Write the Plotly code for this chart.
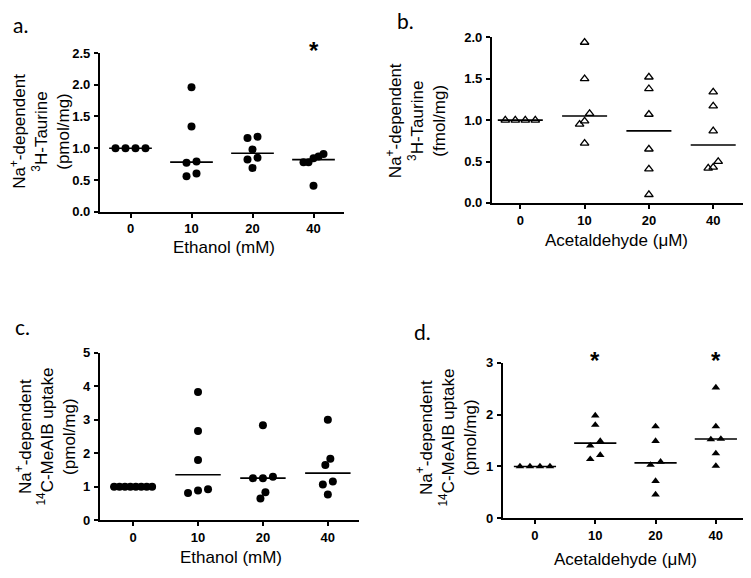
import plotly.graph_objects as go

W, H = 751, 578
OFF = 8  # default page body margin
FW, FH = W - OFF, H - OFF

categories = ["0", "10", "20", "40"]

# Panel a: Ethanol -> 3H-Taurine (pmol/mg)
a_vals = [
    [1.0, 1.0, 1.0, 1.0],
    [1.96, 1.34, 0.79, 0.77, 0.60, 0.56],
    [1.18, 1.16, 0.98, 0.85, 0.82, 0.69],
    [0.91, 0.87, 0.84, 0.78, 0.78, 0.41],
]
a_median = [1.0, 0.78, 0.92, 0.82]

# Panel b: Acetaldehyde -> 3H-Taurine (fmol/mg)
b_vals = [
    [1.0, 1.0, 1.0, 1.0],
    [1.94, 1.50, 1.08, 0.99, 0.95, 0.72],
    [1.52, 1.38, 1.07, 0.65, 0.41, 0.10],
    [1.34, 1.17, 0.87, 0.50, 0.42, 0.43],
]
b_median = [1.0, 1.05, 0.87, 0.70]

# Panel c: Ethanol -> 14C-MeAIB uptake (pmol/mg)
c_vals = [
    [1.0, 1.0, 1.0, 1.0, 1.0, 1.0, 1.0, 1.0],
    [3.83, 2.67, 1.80, 0.93, 0.89, 0.82],
    [2.84, 1.30, 1.26, 1.26, 0.84, 0.65],
    [3.00, 1.84, 1.65, 1.16, 1.07, 0.77],
]
c_median = [1.0, 1.36, 1.26, 1.41]

# Panel d: Acetaldehyde -> 14C-MeAIB uptake (pmol/mg)
d_vals = [
    [1.0, 1.0, 1.0, 1.0],
    [1.98, 1.80, 1.49, 1.40, 1.22, 1.14],
    [1.77, 1.49, 1.09, 1.03, 0.72, 0.46],
    [2.52, 1.77, 1.53, 1.52, 1.25, 1.01],
]
d_median = [1.0, 1.45, 1.07, 1.53]

# significance markers (category)
a_sig = ["40"]
d_sig = ["10", "40"]

panels = [
    dict(key="a", vals=a_vals, med=a_median, x0=100, x1=344, yb=210, yt=47, yr=[0, 2.5], dt=0.5, fmt=".1f",
         xr=[-0.5, 3.5], marker="circle", ytitle="Na<sup>+</sup>-dependent<br><sup>3</sup>H-Taurine<br>(pmol/mg)",
         xtitle="Ethanol (mM)", tx=40, ty=128, xtx=224, xty=247, lx=20, ly=18, sig=a_sig),
    dict(key="b", vals=b_vals, med=b_median, x0=492, x1=746, yb=201, yt=31, yr=[0, 2.0], dt=0.5, fmt=".1f",
         xr=[-0.44, 3.51], marker="triangle-up-open", ytitle="Na<sup>+</sup>-dependent<br><sup>3</sup>H-Taurine<br>(fmol/mg)",
         xtitle="Acetaldehyde (\u03bcM)", tx=416, ty=117, xtx=616, xty=240, lx=405, ly=14, sig=[]),
    dict(key="c", vals=c_vals, med=c_median, x0=100, x1=359, yb=527, yt=355, yr=[0, 5], dt=1, fmt="d",
         xr=[-0.51, 3.48], marker="circle", ytitle="Na<sup>+</sup>-dependent<br><sup>14</sup>C-MeAIB uptake<br>(pmol/mg)",
         xtitle="Ethanol (mM)", tx=45, ty=441, xtx=231, xty=565, lx=23, ly=328, sig=[]),
    dict(key="d", vals=d_vals, med=d_median, x0=503, x1=746, yb=525, yt=365, yr=[0, 3], dt=1, fmt="d",
         xr=[-0.53, 3.5], marker="triangle-up", ytitle="Na<sup>+</sup>-dependent<br><sup>14</sup>C-MeAIB uptake<br>(pmol/mg)",
         xtitle="Acetaldehyde (\u03bcM)", tx=446, ty=442, xtx=625, xty=567, lx=422, ly=333, sig=d_sig),
]


def px_x(px):
    return (px - OFF) / FW


def px_y(py):
    return 1 - (py - OFF) / FH


def swarm_offsets(values, px_per_y, px_per_x, gap=8.0, maxw=38.0):
    """Arrange points with similar values side by side (GraphPad-like column scatter)."""
    order = sorted(range(len(values)), key=lambda i: values[i])
    clusters, cur = [], [order[0]]
    for i in order[1:]:
        if abs(values[i] - values[cur[-1]]) * px_per_y < gap:
            cur.append(i)
        else:
            clusters.append(cur)
            cur = [i]
    clusters.append(cur)
    offs = [0.0] * len(values)
    for cl in clusters:
        n = len(cl)
        if n == 1:
            continue
        spread = (values[cl[-1]] - values[cl[0]]) * px_per_y
        step_px = 10.0 if spread < 5 else 5.0
        s = min(step_px, maxw / (n - 1))
        for k, i in enumerate(cl):
            offs[i] = (k - (n - 1) / 2) * s / px_per_x
    return offs


FONT = "Liberation Sans"
fig = go.Figure()
annotations = []
layout = {}

for n, p in enumerate(panels, start=1):
    xa = "x" if n == 1 else f"x{n}"
    ya = "y" if n == 1 else f"y{n}"
    px_per_y = (p["yb"] - p["yt"]) / (p["yr"][1] - p["yr"][0])
    px_per_x = (p["x1"] - p["x0"]) / (p["xr"][1] - p["xr"][0])
    xs, ys = [], []
    for ci, vals in enumerate(p["vals"]):
        offs = swarm_offsets(vals, px_per_y, px_per_x)
        xs += [ci + o for o in offs]
        ys += vals
    fig.add_trace(go.Scatter(
        x=xs, y=ys, mode="markers", xaxis=xa, yaxis=ya, showlegend=False, cliponaxis=False,
        marker=dict(symbol=p["marker"], size=8 if p["marker"] == "circle" else 7.5, color="black",
                    line=dict(color="black", width=1.3 if "open" in p["marker"] else 0)),
    ))
    hw = 0.35
    lx, ly = [], []
    for ci, m in enumerate(p["med"]):
        lx += [ci - hw, ci + hw, None]
        ly += [m, m, None]
    fig.add_trace(go.Scatter(x=lx, y=ly, mode="lines", xaxis=xa, yaxis=ya, showlegend=False,
                             line=dict(color="black", width=1.6)))

    xdom = [px_x(p["x0"]), px_x(p["x1"])]
    ydom = [px_y(p["yb"]), px_y(p["yt"])]
    xkey = "xaxis" if n == 1 else f"xaxis{n}"
    ykey = "yaxis" if n == 1 else f"yaxis{n}"
    tickfont = dict(family=FONT, size=13, color="black", weight="bold")
    layout[xkey] = dict(domain=xdom, anchor=ya, range=p["xr"], tickvals=list(range(len(categories))),
                        ticktext=categories, showline=True, linecolor="black", linewidth=2.2,
                        ticks="outside", ticklen=4, tickwidth=1.5, tickcolor="black",
                        showgrid=False, zeroline=False, fixedrange=True, tickfont=tickfont)
    nt = int(round((p["yr"][1] - p["yr"][0]) / p["dt"]))
    tv = [p["yr"][0] + k * p["dt"] for k in range(nt + 1)]
    layout[ykey] = dict(domain=ydom, anchor=xa, range=p["yr"], tickvals=tv, tickformat=p["fmt"],
                        showline=True, linecolor="black", linewidth=2.2, ticks="outside", ticklen=4,
                        tickwidth=1.5, tickcolor="black", showgrid=False, zeroline=False, fixedrange=True,
                        tickfont=tickfont, ticklabelstandoff=1)

    annotations.append(dict(text=p["ytitle"], x=px_x(p["tx"]), y=px_y(p["ty"]), xref="paper", yref="paper",
                            showarrow=False, textangle=-90, xanchor="center", yanchor="middle",
                            font=dict(family=FONT, size=17, color="black")))
    annotations.append(dict(text=p["xtitle"], x=px_x(p["xtx"]), y=px_y(p["xty"]), xref="paper", yref="paper",
                            showarrow=False, xanchor="center", yanchor="middle",
                            font=dict(family=FONT, size=17, color="black")))
    annotations.append(dict(text=p["key"] + ".", x=px_x(p["lx"]), y=px_y(p["ly"]), xref="paper", yref="paper",
                            showarrow=False, xanchor="center", yanchor="middle",
                            font=dict(family="Lato", size=21, color="black")))
    for s in p["sig"]:
        ci = categories.index(s)
        annotations.append(dict(text="<b>*</b>", x=ci, y=p["yr"][1], xref=xa, yref=ya, showarrow=False,
                                xanchor="center", yanchor="middle", yshift=2,
                                font=dict(family=FONT, size=24, color="black")))

fig.update_layout(
    width=FW, height=FH, margin=dict(l=0, r=0, t=0, b=0),
    paper_bgcolor="white", plot_bgcolor="white",
    annotations=annotations, **layout,
)

fig.write_html("out.html", config={"displayModeBar": False})
